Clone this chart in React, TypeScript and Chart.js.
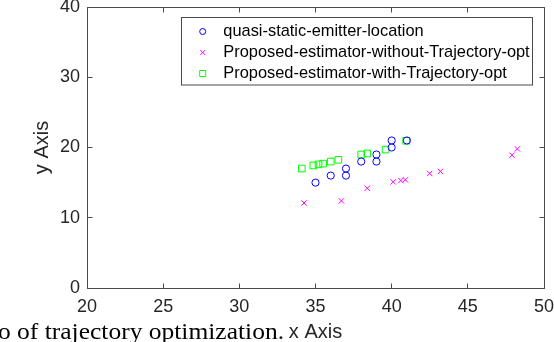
import React, { useEffect, useRef } from 'react';
import { Chart, registerables } from 'chart.js';

Chart.register(...registerables);

// ---- data ----
const seriesLabels = [
  'quasi-static-emitter-location',
  'Proposed-estimator-without-Trajectory-opt',
  'Proposed-estimator-with-Trajectory-opt',
];
const quasiX = [35, 36, 37, 37, 38, 39, 39, 40, 40, 41];
const quasiY = [15, 16, 17, 16, 18, 19, 18, 21, 20, 21];
const withoutX = [34.25, 36.7, 38.4, 40.1, 40.6, 40.9, 42.5, 43.2, 47.9, 48.25];
const withoutY = [12.1, 12.4, 14.2, 15.1, 15.3, 15.4, 16.3, 16.6, 18.9, 19.8];
const withX = [34.1, 34.86, 35.2, 35.5, 36.0, 36.5, 38.0, 38.4, 39.6, 40.95];
const withY = [17.0, 17.45, 17.6, 17.7, 18.0, 18.25, 19.0, 19.15, 19.7, 20.95];
const xTickValues = [20, 25, 30, 35, 40, 45, 50];
const yTickValues = [0, 10, 20, 30, 40];
const xTitle = 'x Axis';
const yTitle = 'y Axis';
const captionText = 'o of trajectory optimization.';

// ---- styles ----
const AXIS = '#262626';
const LINE = '#4a4a4a';
const SANS = '"Liberation Sans", Arial, Helvetica, sans-serif';
const SERIF = '"Liberation Serif", "Times New Roman", serif';
const colors = ['#0000ff', '#ff00ff', '#00ff00'];

const toPoints = (xs: number[], ys: number[]) => xs.map((x, i) => ({ x, y: ys[i] }));

function drawMarker(ctx: CanvasRenderingContext2D, kind: number, x: number, y: number) {
  ctx.save();
  ctx.strokeStyle = colors[kind];
  ctx.lineWidth = 1;
  ctx.beginPath();
  if (kind === 0) {
    ctx.arc(x, y, 3, 0, Math.PI * 2);
  } else if (kind === 1) {
    const s = 2.4;
    ctx.moveTo(x - s, y - s); ctx.lineTo(x + s, y + s);
    ctx.moveTo(x - s, y + s); ctx.lineTo(x + s, y - s);
  } else {
    ctx.rect(x - 3, y - 3, 6, 6);
  }
  ctx.stroke();
  ctx.restore();
}

const boxPlugin = {
  id: 'matlabBox',
  afterDatasetsDraw(chart: any) {
    const { ctx, chartArea: a, scales } = chart;
    const xs = scales.x;
    const ys = scales.y;
    ctx.save();
    ctx.strokeStyle = LINE;
    ctx.lineWidth = 1;
    const L = Math.floor(a.left) + 0.5;
    const R = Math.floor(a.right) + 0.5;
    const T = Math.floor(a.top) + 0.5;
    const B = Math.floor(a.bottom) + 0.5;
    ctx.beginPath();
    ctx.rect(L, T, R - L, B - T);
    const tl = 5;
    xTickValues.forEach((v) => {
      const px = Math.floor(xs.getPixelForValue(v)) + 0.5;
      ctx.moveTo(px, B); ctx.lineTo(px, B - tl);
      ctx.moveTo(px, T); ctx.lineTo(px, T + tl);
    });
    yTickValues.forEach((v) => {
      const py = Math.floor(ys.getPixelForValue(v)) + 0.5;
      ctx.moveTo(L, py); ctx.lineTo(L + tl, py);
      ctx.moveTo(R, py); ctx.lineTo(R - tl, py);
    });
    ctx.stroke();

    // legend
    const lx = 181.5, ly = 17.5, lw = 351, lh = 67.5;
    ctx.fillStyle = '#ffffff';
    ctx.fillRect(lx, ly, lw, lh);
    ctx.strokeStyle = LINE;
    ctx.strokeRect(lx, ly, lw, lh);
    ctx.font = `16.4px ${SANS}`;
    ctx.fillStyle = '#000000';
    ctx.textBaseline = 'middle';
    ctx.textAlign = 'left';
    chart.data.datasets.forEach((ds: any, i: number) => {
      const ry = 31.5 + i * 21;
      drawMarker(ctx, i, 202.7, ry);
      ctx.fillText(ds.label, 223.3, ry);
    });
    ctx.restore();
  },
  afterDraw(chart: any) {
    const { ctx } = chart;
    ctx.save();
    ctx.font = `23px ${SERIF}`;
    ctx.fillStyle = '#000000';
    ctx.textBaseline = 'alphabetic';
    ctx.textAlign = 'left';
    const w = ctx.measureText(captionText).width;
    ctx.translate(-2, 338.7);
    ctx.scale(286 / w, 1);
    ctx.fillText(captionText, 0, 0);
    ctx.restore();
  },
};

export default function App() {
  const ref = useRef<HTMLCanvasElement | null>(null);
  useEffect(() => {
    if (!ref.current) return;
    const chart = new Chart(ref.current, {
      type: 'scatter',
      data: {
        datasets: [
          {
            label: seriesLabels[0],
            data: toPoints(quasiX, quasiY),
            pointStyle: 'circle',
            pointRadius: 3.6,
            borderColor: colors[0],
            backgroundColor: 'rgba(0,0,0,0)',
            borderWidth: 1,
          },
          {
            label: seriesLabels[1],
            data: toPoints(withoutX, withoutY),
            pointStyle: 'crossRot',
            pointRadius: 3.8,
            borderColor: colors[1],
            backgroundColor: 'rgba(0,0,0,0)',
            borderWidth: 1,
          },
          {
            label: seriesLabels[2],
            data: toPoints(withX, withY),
            pointStyle: 'rect',
            pointRadius: 4.7,
            borderColor: colors[2],
            backgroundColor: 'rgba(0,0,0,0)',
            borderWidth: 1,
          },
        ],
      },
      options: {
        responsive: false,
        animation: false,
        events: [],
        layout: { padding: { left: 30, right: 10, top: 7, bottom: 0 } },
        plugins: { legend: { display: false }, tooltip: { enabled: false } },
        scales: {
          x: {
            type: 'linear',
            min: 20,
            max: 50,
            afterBuildTicks: (s: any) => { s.ticks = xTickValues.map((v) => ({ value: v })); },
            afterFit: (s: any) => {
              s.height = 54;
              s.paddingLeft = 0; s.paddingRight = 0; s.paddingTop = 0; s.paddingBottom = 0;
            },
            grid: { display: false, drawTicks: false },
            border: { display: false },
            ticks: { padding: 8, color: AXIS, font: { family: SANS, size: 18 }, maxRotation: 0, autoSkip: false },
            title: { display: true, text: xTitle, color: AXIS, font: { family: SANS, size: 20 }, padding: { top: 0, bottom: -2 } },
          },
          y: {
            type: 'linear',
            min: 0,
            max: 40,
            afterBuildTicks: (s: any) => { s.ticks = yTickValues.map((v) => ({ value: v })); },
            afterFit: (s: any) => {
              s.width = 57;
              s.paddingLeft = 0; s.paddingRight = 0; s.paddingTop = 0; s.paddingBottom = 0;
            },
            grid: { display: false, drawTicks: false },
            border: { display: false },
            ticks: { padding: 7, color: AXIS, font: { family: SANS, size: 18 }, autoSkip: false },
            title: { display: true, text: yTitle, color: AXIS, font: { family: SANS, size: 20 }, padding: { top: 0, bottom: 0 } },
          },
        },
      },
      plugins: [boxPlugin],
    } as any);
    return () => chart.destroy();
  }, []);
  return (
    <div style={{ position: 'fixed', left: 0, top: 0, width: 554, height: 342, background: '#fff' }}>
      <canvas ref={ref} width={554} height={342} style={{ display: 'block' }} />
    </div>
  );
}
